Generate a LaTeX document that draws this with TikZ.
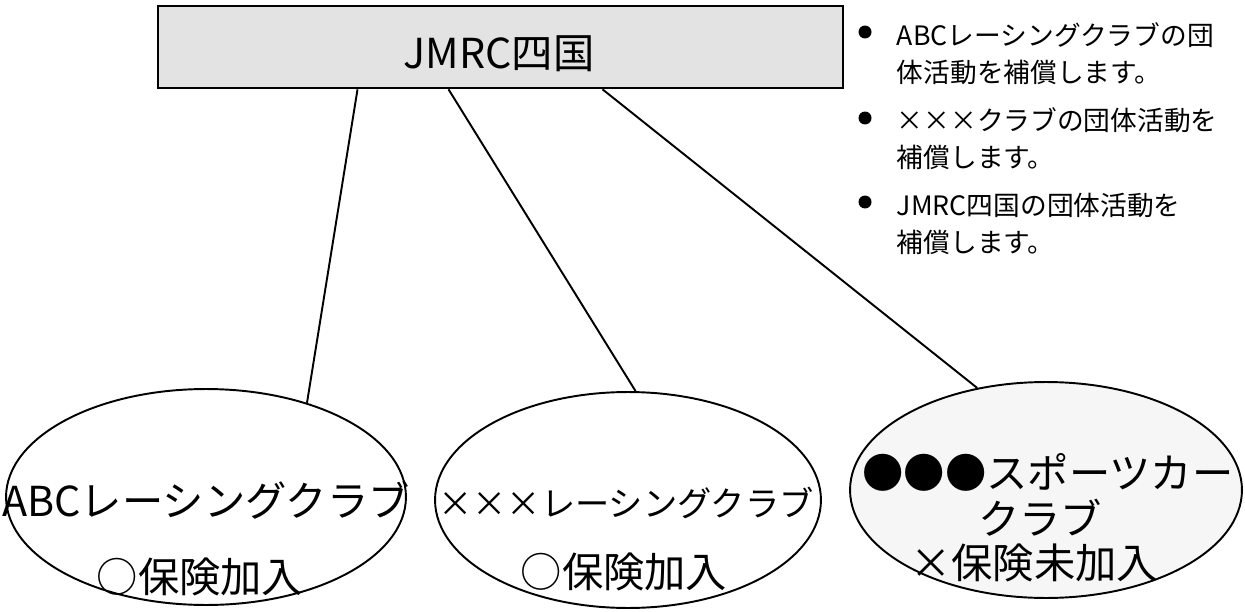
\documentclass[tikz,border=0pt]{standalone}
\usepackage{fontspec}
\setmainfont{Noto Sans CJK JP}
\usetikzlibrary{shapes.geometric}
\newcommand{\wx}{\makebox[1em]{×}}

\begin{document}
\begin{tikzpicture}[x=0.02cm,y=-0.02cm,line width=1.1pt,
  head node/.style={rectangle,draw,line width=1.5pt,fill=gray!22,minimum width=13.7cm,
    minimum height=1.64cm,inner sep=0pt,font=\fontsize{23.5pt}{28pt}\selectfont},
  club node/.style={ellipse,draw,inner sep=0pt,minimum height=4.32cm},
  club text/.style={inner sep=0pt,font=\fontsize{23.5pt}{28pt}\selectfont},
  dot node/.style={circle,fill=black,inner sep=0pt,minimum size=0.26cm},
  item node/.style={align=left,anchor=north west,inner sep=0pt,
    font=\fontsize{15.2pt}{21pt}\selectfont}]
  \useasboundingbox (0,0) rectangle (1245,612);

  \node[head node] (top) at (500.5,47) {};
  \node[club text] (title) at (499,54) {JMRC四国};

  \node[club node,minimum width=8cm]    (c1) at (206,497) {};
  \node[club node,minimum width=7.72cm] (c2) at (628,500) {};
  \node[club node,minimum width=7.84cm,fill=gray!7] (c3) at (1046,490) {};

  \node[club text] (c1a) at (206,500) {ABCレーシングクラブ};
  \node[club text] (c1b) at (200,577) {○保険加入};
  \node[club text,font=\fontsize{19.5pt}{24pt}\selectfont] (c2a) at (626,503)
    {\wx\wx\wx レーシングクラブ};
  \node[club text] (c2b) at (624,572) {○保険加入};
  \node[club text] (c3a) at (1048,472) {●●●スポーツカー};
  \node[club text] (c3b) at (1040,518) {クラブ};
  \node[club text] (c3c) at (1034,563) {×保険未加入};

  \node[dot node] (d1) at (865,32) {};
  \node[dot node] (d2) at (865,118) {};
  \node[dot node] (d3) at (865,202) {};
  \node[item node] (i1) at (896,22)  {ABCレーシングクラブの団\\体活動を補償します。};
  \node[item node] (i2) at (896,107) {\wx\wx\wx クラブの団体活動を\\補償します。};
  \node[item node] (i3) at (896,192) {JMRC四国の団体活動を\\補償します。};

  \path
    ([xshift=-2.86cm]top.south) edge (c1.43)
    ([xshift=-1.04cm]top.south) edge (c2.86)
    ([xshift=2.04cm]top.south)  edge (c3.124);
\end{tikzpicture}
\end{document}
